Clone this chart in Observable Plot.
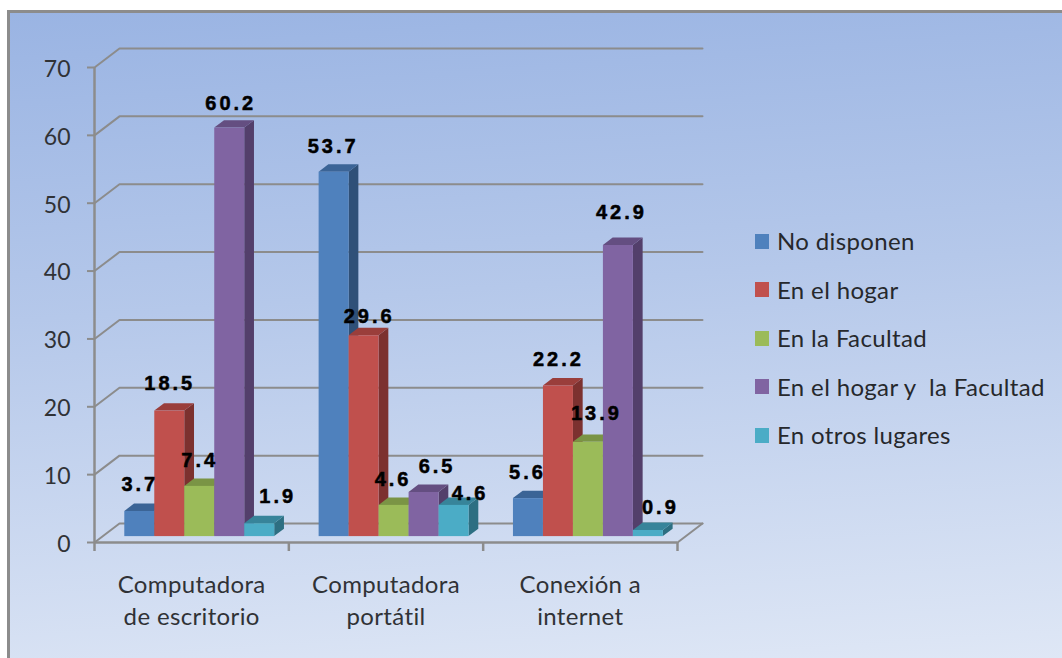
<!DOCTYPE html>
<html lang="es">
<head>
<meta charset="utf-8">
<title>Disponibilidad de equipamiento</title>
<script src="https://cdn.jsdelivr.net/npm/d3@7"></script>
<script src="https://cdn.jsdelivr.net/npm/@observablehq/plot@0.6"></script>
<style>
  html, body { margin: 0; padding: 0; width: 1062px; height: 658px; overflow: hidden; background: #fff; }
  #panel {
    position: absolute; left: 7px; top: 10px; width: 1100px; height: 700px;
    box-sizing: border-box; border: 3px solid #8c8c8c;
    background: linear-gradient(176deg, #9ab4e3 0%, #b5c8ea 40%, #e0e8f6 95%);
  }
  #chart { position: absolute; left: 0; top: 0; }
  #legend { position: absolute; left: 755px; top: 217px; font: 24px Lato, sans-serif; color: #26282c; letter-spacing: 0.35px; }
  #legend div { height: 48.5px; line-height: 48px; white-space: pre; display: flex; align-items: center; }
  #legend i { display: inline-block; width: 14px; height: 15px; margin-right: 8px; }
  .value-label { letter-spacing: 3px; }
  .category-label { letter-spacing: 0.35px; }
</style>
</head>
<body>
<div id="panel"></div>
<div id="chart"></div>
<div id="legend"></div>
<script>
const categories = ["Computadora\nde escritorio", "Computadora\nportátil", "Conexión a\ninternet"];
const seriesNames = ["No disponen", "En el hogar", "En la Facultad", "En el hogar y  la Facultad", "En otros lugares"];

const noDisponen = [3.7, 53.7, 5.6];
const enElHogar = [18.5, 29.6, 22.2];
const enLaFacultad = [7.4, 4.6, 13.9];
const enHogarYFacultad = [60.2, 6.5, 42.9];
const enOtrosLugares = [1.9, 4.6, 0.9];
const seriesValues = [noDisponen, enElHogar, enLaFacultad, enHogarYFacultad, enOtrosLugares];

const yTicks = [0, 10, 20, 30, 40, 50, 60, 70];

// Face colours per series
const frontColors = ["#4f81bd", "#c0504d", "#9bbb59", "#8064a2", "#4bacc6"];
const topColors = ["#3b6496", "#9a3e3b", "#7a9445", "#644e81", "#37849a"];
const sideColors = ["#2f5078", "#7c312f", "#637838", "#533f6b", "#2d6f82"];

// Hand placement of the value labels, in pixels from the default spot
const labelNudgeX = [[0, 0, 0, 1, 18], [-1, 5, -1, 13, 16], [-1, 0, 8, 3, 12]];
const labelNudgeY = [[-1, -1, 0, 1, -1], [0, 7, 0, 0, 14], [0, 0, -3, -7, 3]];

// Oblique projection of the floor depth, expressed in scale units.
// depth 0 is the front edge of the floor, depth 1 the back wall.
const depthX = 0.1286;
const depthY = 2.8;
const px = (x, depth) => x + depth * depthX;
const py = (v, depth) => v + depth * depthY;

const barFront = 0.31;
const barBack = 0.7;
const barStart = 0.116;
const barWidth = 0.1543;

const bars = seriesValues.flatMap((values, s) => values.map((value, c) => ({
  key: `${c}-${s}`,
  c, s, value,
  left: c + barStart + s * barWidth,
  right: c + barStart + (s + 1) * barWidth
})));

// Two end points per face: the area between them is the parallelogram
const sideFace = bars.flatMap(b => [barFront, barBack].map(depth => ({
  key: b.key, s: b.s,
  x: px(b.right, depth), y1: py(0, depth), y2: py(b.value, depth)
})));
const topFace = bars.flatMap(b => [barFront, barBack].map(depth => ({
  key: b.key, s: b.s,
  y: py(b.value, depth), x1: px(b.left, depth), x2: px(b.right, depth)
})));

// Gridlines: up the side wall, then across the back wall
const gridLines = yTicks.flatMap(v => [
  {v, x: px(0, 0), y: py(v, 0)},
  {v, x: px(0, 1), y: py(v, 1)},
  {v, x: px(3, 1), y: py(v, 1)}
]);
const floorEdge = [{x: px(3, 0), y: py(0, 0)}, {x: px(3, 1), y: py(0, 1)}];

const gray = "#8c8c8c";
const labelMarks = bars.map(b => Plot.text([b], {
  x: d => px((d.left + d.right) / 2, barFront),
  y: d => py(d.value, barFront),
  text: d => d.value.toFixed(1),
  dx: labelNudgeX[b.c][b.s],
  dy: -26 + labelNudgeY[b.c][b.s],
  fill: "#000",
  stroke: "#000",
  strokeWidth: 0.5,
  fontSize: 20,
  fontWeight: 700,
  fontFamily: "Liberation Sans",
  lineAnchor: "middle",
  className: "value-label"
}));

const plot = Plot.plot({
  width: 1062,
  height: 658,
  marginLeft: 94,
  marginRight: 385,
  marginTop: 67,
  marginBottom: 116,
  style: {background: "transparent", fontFamily: "Lato, sans-serif"},
  x: {type: "linear", domain: [0, 3]},
  y: {domain: [0, 70]},
  marks: [
    Plot.line(gridLines, {x: "x", y: "y", z: "v", stroke: gray, strokeWidth: 2}),
    Plot.line(floorEdge, {x: "x", y: "y", stroke: gray, strokeWidth: 2}),
    Plot.ruleX([0], {y1: 0, y2: 70, stroke: gray, strokeWidth: 2.5}),
    Plot.ruleY([0], {x1: 0, x2: 3, stroke: gray, strokeWidth: 2.5}),
    Plot.axisY({
      ticks: yTicks, tickSize: 7, tickFormat: () => "", label: null,
      stroke: gray, strokeWidth: 2
    }),
    Plot.axisY({
      ticks: yTicks, tickSize: 0, tickPadding: 24, label: null,
      fill: "#303236", fontSize: 23, dy: 2
    }),
    Plot.axisX({
      ticks: [0, 1, 2, 3], tickSize: 9, tickFormat: () => "", label: null,
      stroke: gray, strokeWidth: 2.5
    }),
    Plot.axisX({
      ticks: [0.5, 1.5, 2.5], tickSize: 0, tickPadding: 28, label: null,
      tickFormat: t => categories[Math.floor(t)],
      fill: "#303236", fontSize: 24, lineHeight: 1.333, lineAnchor: "top",
      className: "category-label"
    }),
    Plot.area(sideFace, {
      x1: "x", x2: "x", y1: "y1", y2: "y2", z: "key",
      fill: d => sideColors[d.s]
    }),
    Plot.area(topFace, {
      x1: "x1", x2: "x2", y1: "y", y2: "y", z: "key",
      fill: d => topColors[d.s]
    }),
    Plot.rect(bars, {
      x1: d => px(d.left, barFront),
      x2: d => px(d.right, barFront),
      y1: py(0, barFront),
      y2: d => py(d.value, barFront),
      fill: d => frontColors[d.s]
    }),
    ...labelMarks
  ]
});
document.getElementById("chart").append(plot);

// Series key, to the right of the plot
const legend = d3.select("#legend");
seriesNames.forEach((name, i) => {
  const row = legend.append("div");
  row.append("i").style("background", frontColors[i]);
  row.append("span").text(name);
});
</script>
</body>
</html>
